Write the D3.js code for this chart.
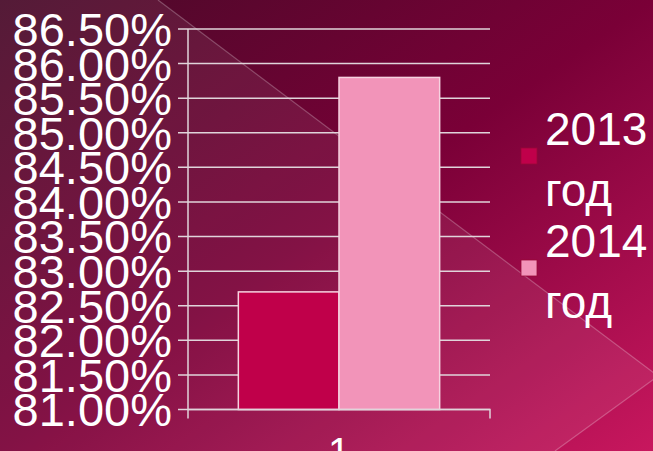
<!DOCTYPE html>
<html>
<head>
<meta charset="utf-8">
<script src="https://cdn.jsdelivr.net/npm/d3@7"></script>
<style>
  html, body { margin: 0; padding: 0; overflow: hidden; }
  text { font-family: "Liberation Sans", Arial, sans-serif; fill: #fff; }
</style>
</head>
<body>
<script>
const width = 653;
const height = 451;

// data
const categories = ['1'];
const seriesNames = ['2013 год', '2014 год'];
const seriesValues = [0.827, 0.858];
const seriesColors = ['#c0004a', '#f294b9'];
const yTicks = d3.range(0.81, 0.8651, 0.005);

const margin = {left: 188, right: 163, top: 29, bottom: 41.5};

const svg = d3.select('body').append('svg')
    .attr('width', width)
    .attr('height', height);

// background
const defs = svg.append('defs');
const grad = defs.append('linearGradient')
    .attr('id', 'bg')
    .attr('x1', 0).attr('y1', 0)
    .attr('x2', 1).attr('y2', 1);
grad.append('stop').attr('offset', 0).attr('stop-color', '#480a28');
grad.append('stop').attr('offset', 0.5).attr('stop-color', '#7a0037');
grad.append('stop').attr('offset', 1).attr('stop-color', '#c8175e');

svg.append('rect')
    .attr('width', width)
    .attr('height', height)
    .attr('fill', 'url(#bg)');

// translucent arrow shape of the slide template
svg.append('path')
    .attr('d', 'M0,0 L158,0 L658,376 L555,451 L0,451 Z')
    .attr('fill', '#fff')
    .attr('fill-opacity', 0.07);
svg.append('path')
    .attr('d', 'M158,0 L658,376 L555,451')
    .attr('fill', 'none')
    .attr('stroke', '#fff')
    .attr('stroke-opacity', 0.25)
    .attr('stroke-width', 1.2);

const x0 = d3.scaleBand()
    .domain(categories)
    .range([margin.left, width - margin.right])
    .paddingInner(0)
    .paddingOuter(0.25);

const x1 = d3.scaleBand()
    .domain(seriesNames)
    .range([0, x0.bandwidth()]);

const y = d3.scaleLinear()
    .domain([0.81, 0.865])
    .range([height - margin.bottom, margin.top]);

const g = svg.append('g');

// gridlines with ticks
g.selectAll('line.grid')
    .data(yTicks)
    .enter()
    .append('line')
    .attr('class', 'grid')
    .attr('x1', margin.left - 10)
    .attr('x2', width - margin.right)
    .attr('y1', d => y(d))
    .attr('y2', d => y(d))
    .attr('stroke', '#e0d4da')
    .attr('stroke-width', 1.5);

// y labels
g.selectAll('text.ylab')
    .data(yTicks)
    .enter()
    .append('text')
    .attr('class', 'ylab')
    .attr('x', 172)
    .attr('y', d => y(d))
    .attr('dy', '0.36em')
    .attr('text-anchor', 'end')
    .style('font-size', '47px')
    .text(d => d3.format('.2%')(d));

// bars
categories.forEach(cat => {
    g.selectAll('rect.bar-' + cat)
        .data(seriesValues)
        .enter()
        .append('rect')
        .attr('x', (d, i) => x0(cat) + x1(seriesNames[i]))
        .attr('width', x1.bandwidth())
        .attr('y', d => y(d))
        .attr('height', d => y(0.81) - y(d))
        .attr('fill', (d, i) => seriesColors[i])
        .attr('stroke', '#f6d2e0')
        .attr('stroke-width', 1.5);
});

// axes
const axisY = height - margin.bottom;
g.append('path')
    .attr('d', `M${margin.left},${margin.top} V${axisY + 9}`)
    .attr('stroke', '#e0d4da').attr('stroke-width', 1.5).attr('fill', 'none');
g.append('path')
    .attr('d', `M${margin.left},${axisY} H${width - margin.right} V${axisY + 9}`)
    .attr('stroke', '#e0d4da').attr('stroke-width', 1.5).attr('fill', 'none');

// x label
g.selectAll('text.xlab')
    .data(categories)
    .enter()
    .append('text')
    .attr('class', 'xlab')
    .attr('x', d => x0(d) + x0.bandwidth() / 2)
    .attr('y', 466)
    .attr('text-anchor', 'middle')
    .style('font-size', '40px')
    .text(d => d);

// legend
const legendTop = [148, 260];
const legend = svg.append('g');
seriesNames.forEach((name, i) => {
    const words = name.split(' ');
    legend.append('rect')
        .attr('x', 521)
        .attr('y', legendTop[i])
        .attr('width', 16)
        .attr('height', 16)
        .attr('fill', seriesColors[i])
        .attr('stroke', '#9a0838')
        .attr('stroke-width', 0.8);
    legend.append('text')
        .attr('x', 545)
        .attr('y', legendTop[i] - 3)
        .style('font-size', '46px')
        .text(words[0]);
    legend.append('text')
        .attr('x', 545)
        .attr('y', legendTop[i] + 58)
        .style('font-size', '46px')
        .text(words[1]);
});
</script>
</body>
</html>
